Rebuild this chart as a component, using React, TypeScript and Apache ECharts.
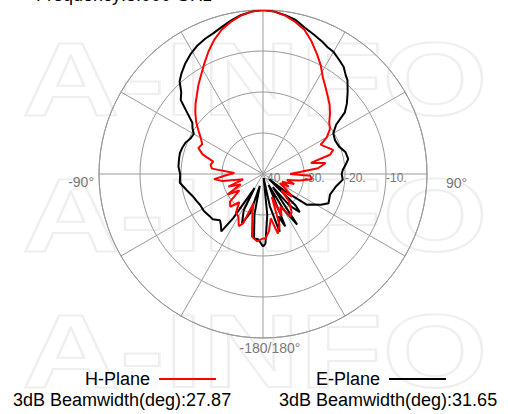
import React, { useEffect, useRef } from "react";
import * as echarts from "echarts";

// [angle (deg, 0 = boresight, clockwise), gain (dB)]
const H_PLANE: [number, number][] = [
  [-180, -24.3], [-175, -23.5], [-170, -24.5], [-165, -30], [-162, -32.5], [-158, -27], [-155, -26],
  [-150, -28], [-145, -28.5], [-140, -31], [-135, -28.7], [-130, -29.5], [-125, -33], [-120, -30],
  [-115, -34], [-110, -31], [-105, -35], [-100, -30], [-96, -28], [-92, -31], [-88, -33], [-84, -27.5],
  [-80, -27], [-76, -27.5], [-72, -24.5], [-68, -23], [-64, -23.5], [-60, -22.5], [-56, -21], [-52, -19.3],
  [-48, -17.8], [-44, -16.3], [-40, -14.9], [-36, -13.2], [-32, -11.5], [-28, -9.5], [-24, -7.3],
  [-20, -5.2], [-16, -3.4], [-12, -2.1], [-8, -1], [-4, -0.3], [0, 0], [4, -0.3], [8, -1], [12, -2.1],
  [16, -3.4], [20, -5.5], [24, -7.8], [28, -10], [32, -12.4], [36, -14], [40, -15.4], [44, -16.6],
  [48, -18], [52, -19.5], [56, -20.3], [60, -22], [63, -24.2], [67, -23.2], [71, -21.9], [74, -23],
  [77, -28], [80, -24.5], [84, -26.5], [87, -31], [90, -33.4], [92, -28.5], [96, -28], [100, -31],
  [104, -34], [108, -32], [112, -35], [116, -33], [119, -35.3], [124, -33], [128, -31], [132, -34],
  [136, -31], [140, -29.7], [143, -28.4], [147, -27.7], [152, -31], [156, -28.8], [159, -34], [162, -27],
  [166, -25], [170, -29], [174, -26], [178, -24.2], [180, -24.3],
];

const E_PLANE: [number, number][] = [
  [-180, -22.3], [-176, -24], [-172, -24.2], [-168, -30], [-165, -37], [-162, -30], [-157, -26.9],
  [-152, -30], [-149, -36], [-146, -27], [-144, -22.7], [-140, -24], [-137, -24.6], [-132, -23.5],
  [-128, -23.4], [-122, -23], [-116, -22.9], [-112, -22.5], [-108, -22.1], [-102, -21], [-96, -19.6],
  [-90, -19.8], [-85, -19.3], [-80, -19.2], [-76, -19.1], [-72, -19.3], [-68, -19.6], [-64, -20.3],
  [-60, -20.5], [-57, -19.5], [-54, -18.7], [-51, -16.2], [-48, -13], [-45, -11.8], [-42, -9.6],
  [-39, -8.4], [-35, -7], [-31, -5.8], [-27, -4.8], [-23, -4.1], [-19.5, -3.6], [-15, -2.6],
  [-11.5, -1.7], [-8, -0.9], [-4, -0.3], [0, 0], [4, -0.3], [8, -0.9], [12, -1.6], [16, -2.9],
  [20, -3.8], [24, -4.6], [27, -5.3], [30, -5.6], [34, -6.6], [37, -7.3], [40, -8.6], [42, -9.2],
  [46, -11.3], [50, -13.3], [53, -15], [56, -18.5], [60, -20.2], [65, -20.6], [70, -20.3], [75, -19.2],
  [80, -18.9], [84, -19.8], [87, -20.5], [90, -20.8], [94, -20.5], [100, -22], [107, -22.9],
  [114, -22.5], [118, -24], [122, -26], [125, -26.9], [128, -33], [131, -38], [134, -29], [136, -27.1],
  [140, -30], [143, -36], [146, -25.1], [150, -30], [153, -37], [157, -26.1], [160, -29], [164, -25.3],
  [168, -32], [171, -39], [174, -30], [178, -23], [180, -22.3],
];

const SERIES_NAMES = ["H-Plane", "E-Plane"];
const BEAMWIDTHS = ["27.87", "31.65"];
const TITLE = "Frequency:8.000 GHz";
const RADIUS_TICKS_LABEL: Record<number, string> = { [-40]: "-40", [-30]: "-30.", [-20]: "-20.", [-10]: "-10.", 0: "" };
const ANGLE_LABELS = ["-90°", "90°", "-180/180°"];
const WATERMARK = "A-INFO";

const FONT = "'Liberation Sans', Arial, sans-serif";

// angle axis runs 90..450 starting at the right (90°), clockwise
const toAxisAngle = (a: number) => (a < 90 ? a + 360 : a);
const toData = (pts: [number, number][]) => pts.map(([a, v]) => [v, toAxisAngle(a)]);

export default function App() {
  const ref = useRef<HTMLDivElement>(null);
  useEffect(() => {
    document.body.style.margin = "0";
    const chart = echarts.init(ref.current!, null, { renderer: "svg" });
    const cx = 263, cy = 174, R = 164;
    const wm = (top: number) => ({
      type: "text",
      z: -10,
      x: 22,
      y: top,
      scaleX: 1.3,
      style: {
        text: WATERMARK,
        font: `bold 104px ${FONT}`,
        fill: "rgba(255,255,255,0)",
        stroke: "#efefef",
        lineWidth: 2,
        verticalAlign: "top",
      },
    });
    const legendBase = {
      top: 365,
      align: "right",
      icon: "rect",
      itemWidth: 57,
      itemHeight: 2,
      selectedMode: false,
      textStyle: { fontSize: 18, color: "#000", fontFamily: FONT, padding: [0, 4, 0, 0] },
    };
    chart.setOption({
      animation: false,
      backgroundColor: "#fff",
      polar: { center: [cx, cy], radius: R },
      angleAxis: {
        type: "value",
        min: 90,
        max: 450,
        interval: 30,
        startAngle: 0,
        clockwise: true,
        axisLine: { show: true, lineStyle: { color: "#999", width: 1 } },
        axisTick: { show: false },
        axisLabel: { show: false },
        splitLine: { show: true, lineStyle: { color: "#9a9a9a", width: 1 } },
      },
      radiusAxis: {
        type: "value",
        min: -40,
        max: 0,
        interval: 10,
        axisLine: { show: false },
        axisTick: { show: false },
        axisLabel: {
          show: true,
          formatter: (v: number) => RADIUS_TICKS_LABEL[v] ?? "",
          color: "#777",
          fontSize: 12,
          fontFamily: FONT,
          align: "left",
          verticalAlign: "top",
          margin: 2,
        },
        splitLine: { show: true, lineStyle: { color: "#999", width: 1 } },
      },
      legend: [
        { ...legendBase, data: [SERIES_NAMES[0]], left: 80 },
        { ...legendBase, data: [SERIES_NAMES[1]], left: 311 },
      ],
      graphic: [
        wm(27),
        wm(163),
        wm(299),
        {
          type: "text",
          x: 36,
          y: 4,
          style: { text: TITLE, font: `18px ${FONT}`, fill: "#000", verticalAlign: "bottom" },
        },
        {
          type: "text",
          x: cx - R - 5,
          y: cy + 8,
          style: { text: ANGLE_LABELS[0], font: `14px ${FONT}`, fill: "#777", align: "right", verticalAlign: "middle" },
        },
        {
          type: "text",
          x: cx + R + 19,
          y: cy + 9,
          style: { text: ANGLE_LABELS[1], font: `14px ${FONT}`, fill: "#777", align: "left", verticalAlign: "middle" },
        },
        {
          type: "text",
          x: cx + 7,
          y: cy + R + 10,
          style: { text: ANGLE_LABELS[2], font: `14px ${FONT}`, fill: "#777", align: "center", verticalAlign: "middle" },
        },
        {
          type: "text",
          x: 13,
          y: 400,
          style: { text: `3dB Beamwidth(deg):${BEAMWIDTHS[0]}`, font: `18px ${FONT}`, fill: "#000", verticalAlign: "middle" },
        },
        {
          type: "text",
          x: 279,
          y: 400,
          style: { text: `3dB Beamwidth(deg):${BEAMWIDTHS[1]}`, font: `18px ${FONT}`, fill: "#000", verticalAlign: "middle" },
        },
      ],
      series: [
        {
          name: SERIES_NAMES[1],
          type: "line",
          coordinateSystem: "polar",
          data: toData(E_PLANE),
          symbol: "none",
          lineStyle: { color: "#000", width: 2 },
          itemStyle: { color: "#000" },
          z: 3,
        },
        {
          name: SERIES_NAMES[0],
          type: "line",
          coordinateSystem: "polar",
          data: toData(H_PLANE),
          symbol: "none",
          lineStyle: { color: "#ff0000", width: 2 },
          itemStyle: { color: "#ff0000" },
          z: 4,
        },
      ],
    });
    return () => chart.dispose();
  }, []);
  return <div ref={ref} style={{ width: 508, height: 414, position: "absolute", left: 0, top: 0 }} />;
}
